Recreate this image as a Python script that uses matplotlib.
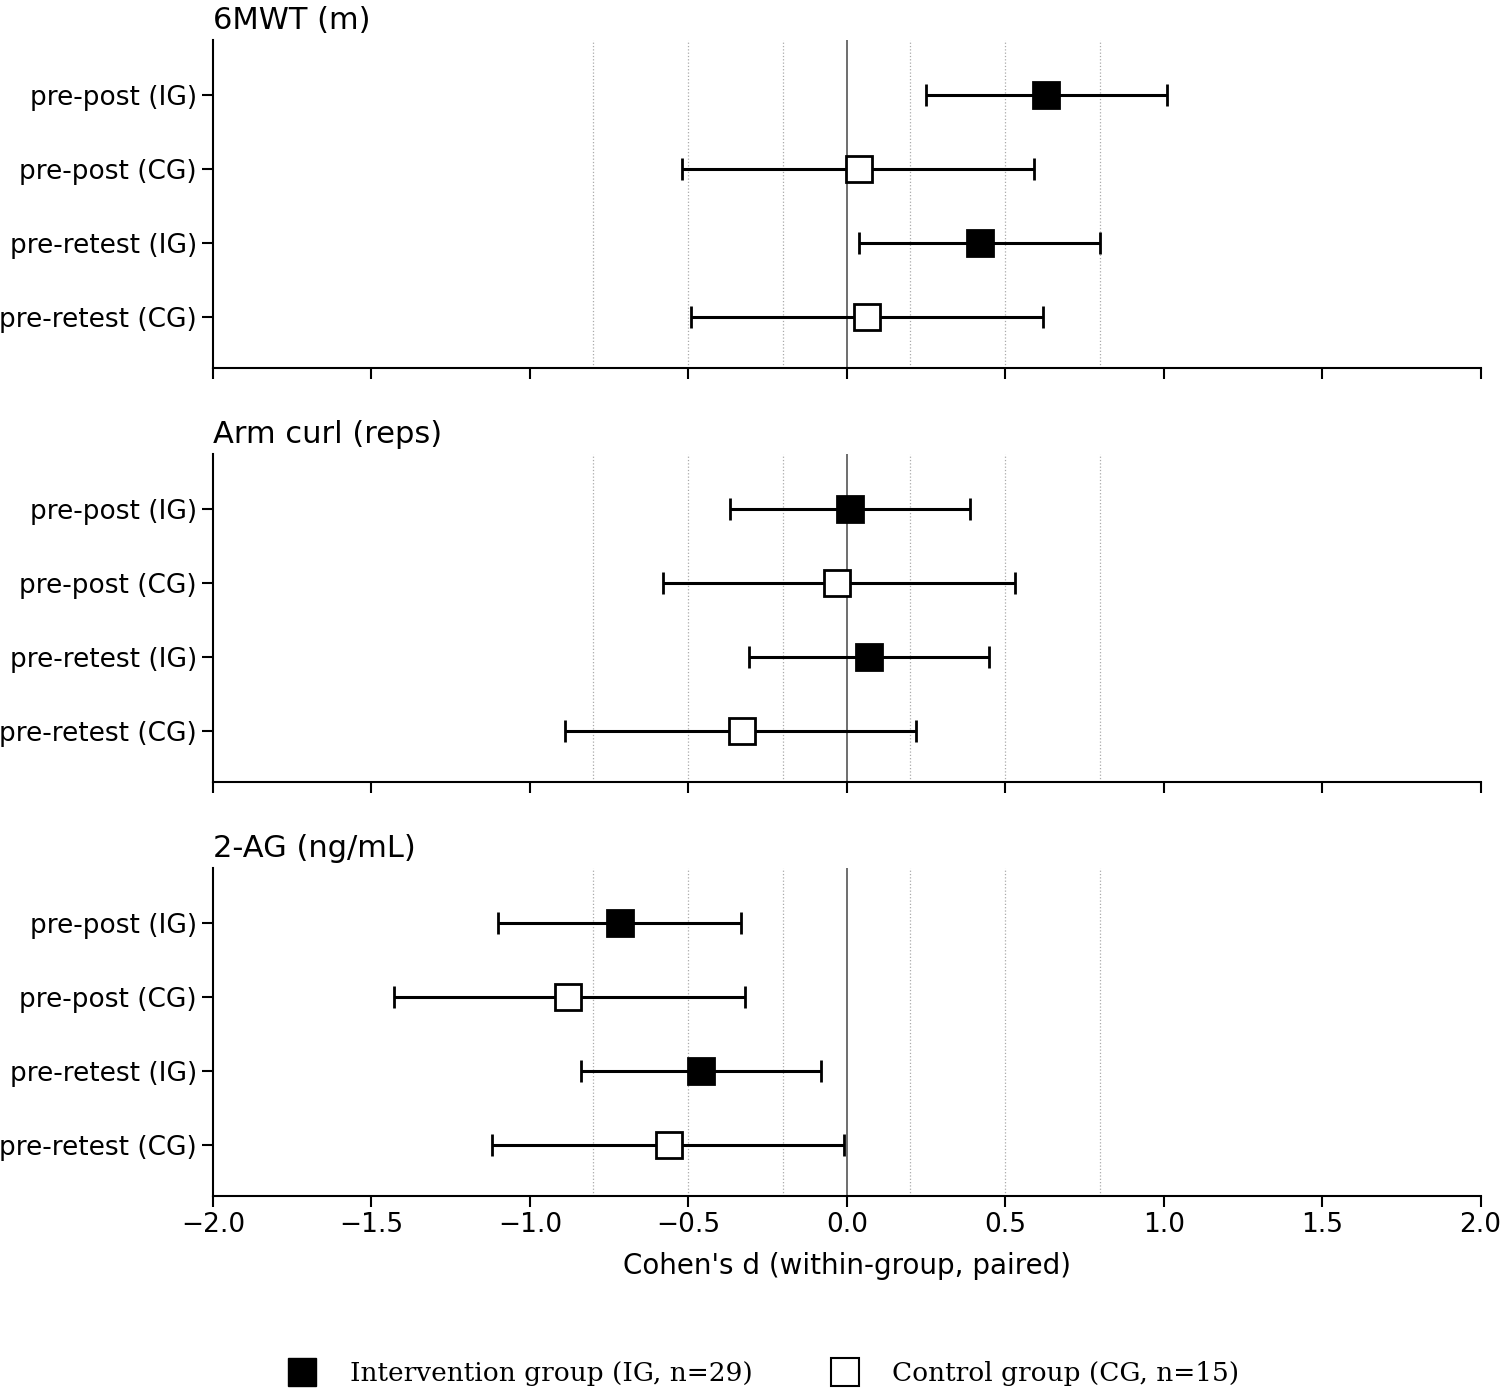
import matplotlib
matplotlib.use("Agg")
import matplotlib.pyplot as plt
from matplotlib.lines import Line2D

rows = ["pre-post (IG)", "pre-post (CG)", "pre-retest (IG)", "pre-retest (CG)"]
is_ig = [True, False, True, False]
titles = ["6MWT (m)", "Arm curl (reps)", "2-AG (ng/mL)"]
d_6mwt = [0.63, 0.04, 0.42, 0.065]
lo_6mwt = [0.25, -0.52, 0.04, -0.49]
hi_6mwt = [1.01, 0.59, 0.80, 0.62]
d_arm = [0.01, -0.03, 0.07, -0.33]
lo_arm = [-0.37, -0.58, -0.31, -0.89]
hi_arm = [0.39, 0.53, 0.45, 0.22]
d_2ag = [-0.715, -0.88, -0.46, -0.56]
lo_2ag = [-1.10, -1.43, -0.84, -1.12]
hi_2ag = [-0.335, -0.32, -0.08, -0.01]
panels = [(d_6mwt, lo_6mwt, hi_6mwt), (d_arm, lo_arm, hi_arm), (d_2ag, lo_2ag, hi_2ag)]
ref_lines = [-0.8, -0.5, -0.2, 0.2, 0.5, 0.8]

fig = plt.figure(figsize=(15, 13.93), dpi=100)
bottoms = [0.7358, 0.4386, 0.1414]
for k, (title, (d, lo, hi)) in enumerate(zip(titles, panels)):
    ax = fig.add_axes([0.142, bottoms[k], 0.845, 0.2355])
    for r in ref_lines:
        ax.axvline(r, color="#aaaaaa", lw=0.9, ls=":", zorder=0)
    ax.axvline(0, color="#555555", lw=1.2, zorder=0)
    for i in range(4):
        ax.errorbar(d[i], i, xerr=[[d[i]-lo[i]], [hi[i]-d[i]]], fmt="s",
                    color="black", mfc="black" if is_ig[i] else "white",
                    mec="black", mew=2, ms=19, elinewidth=2.2, capsize=8, capthick=2, zorder=3)
    ax.set_xlim(-2, 2)
    ax.set_ylim(3.69, -0.74)
    ax.set_yticks(range(4))
    ax.set_yticklabels(rows, fontsize=19)
    ax.set_xticks([-2, -1.5, -1, -0.5, 0, 0.5, 1, 1.5, 2])
    ax.tick_params(axis="both", length=8, width=1.5)
    for s in ["top", "right"]:
        ax.spines[s].set_visible(False)
    for s in ["left", "bottom"]:
        ax.spines[s].set_linewidth(1.5)
    ax.set_title(title, loc="left", fontsize=22, pad=8)
    if k < 2:
        ax.set_xticklabels([])
    else:
        ax.set_xticklabels([f"{v:.1f}".replace("-", "\u2212") for v in [-2, -1.5, -1, -0.5, 0, 0.5, 1, 1.5, 2]], fontsize=19)
        ax.set_xlabel("Cohen's d (within-group, paired)", fontsize=20, labelpad=10)

handles = [Line2D([], [], marker="s", ls="", color="black", mfc="black", ms=20),
           Line2D([], [], marker="s", ls="", color="black", mfc="white", mew=1.5, ms=20)]
fig.legend(handles, ["Intervention group (IG, n=29)", "Control group (CG, n=15)"],
           loc="center", bbox_to_anchor=(0.505, 0.014), ncol=2, frameon=False,
           prop={"family": "DejaVu Serif", "size": 19}, columnspacing=2.5, handletextpad=0.8)
fig.savefig("out.png", dpi=100)
